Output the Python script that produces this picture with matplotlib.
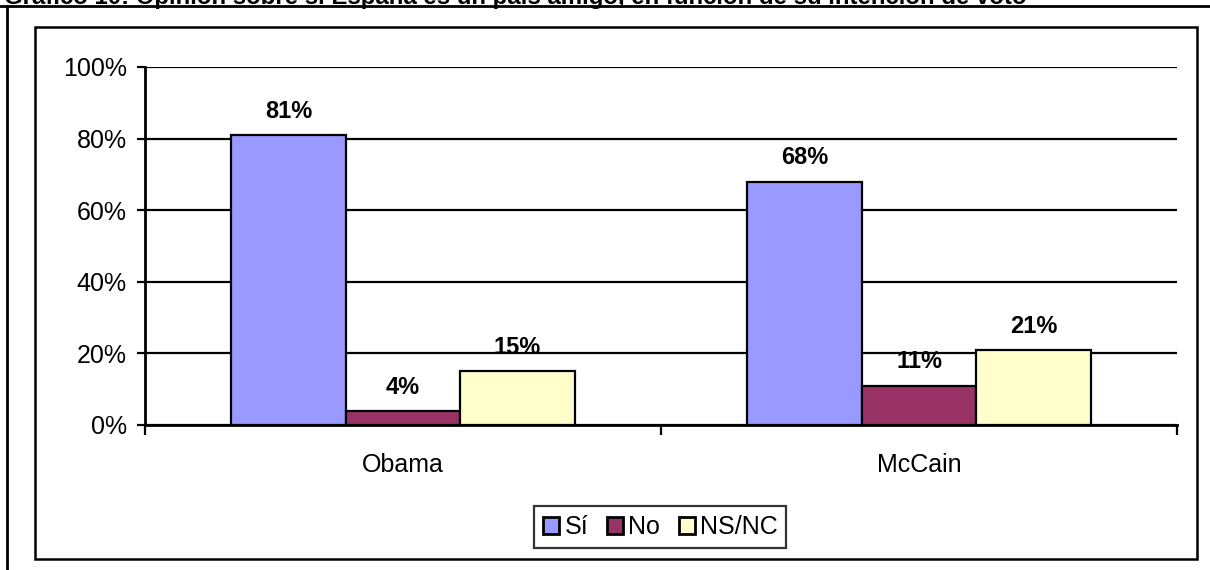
import matplotlib.pyplot as plt
from matplotlib.patches import Rectangle
from matplotlib.lines import Line2D
import numpy as np

plt.rcParams['font.family'] = ['Liberation Sans', 'DejaVu Sans']

title = "Gráfico 10: Opinión sobre si España es un país amigo, en función de su intención de voto"
categories = ["Obama", "McCain"]
series = ["Sí", "No", "NS/NC"]
si = [81, 68]
no = [4, 11]
nsnc = [15, 21]
colors = ["#9999FF", "#993366", "#FFFFCC"]

W, H = 1210, 570
fig = plt.figure(figsize=(W / 100, H / 100), dpi=100)

# title cut off at top of the page, rule under it and left page border
fig.text(4 / W, 1 - 4 / H, title, fontsize=17.3, fontweight="bold", ha="left", va="baseline")
fig.add_artist(Line2D([0, 1], [1 - 6 / H, 1 - 6 / H], color="black", lw=2))
fig.add_artist(Line2D([7 / W, 7 / W], [0, 1 - 6 / H], color="black", lw=2))

# chart frame
fig.add_artist(Rectangle((35 / W, 1 - 559 / H), (1197 - 35) / W, (559 - 27) / H,
                         fill=False, edgecolor="black", lw=1.8))

ax = fig.add_axes([145 / W, 1 - 425 / H, (1177 - 145) / W, (425 - 67) / H])

x = np.arange(len(categories))
bw = 0.222
for i, (vals, name, c) in enumerate(zip([si, no, nsnc], series, colors)):
    pos = x + (i - 1) * bw
    ax.bar(pos, vals, bw, color=c, edgecolor="black", linewidth=1.6, label=name, zorder=3)
    for p, v in zip(pos, vals):
        ax.text(p, v + 6.6, f"{v}%", ha="center", va="center", fontsize=17,
                fontweight="bold", zorder=4)

ax.set_xlim(-0.5, 1.5)
ax.set_ylim(0, 100)
ax.set_yticks(range(0, 101, 20))
ax.set_yticklabels([f"{t}%" for t in range(0, 101, 20)], fontsize=18)
ax.yaxis.grid(True, color="black", lw=1.6, zorder=1)
ax.set_xticks(x)
ax.set_xticklabels(categories, fontsize=18)
ax.set_xticks([-0.5, 0.5, 1.5], minor=True)
ax.tick_params(axis="x", which="major", length=0, pad=20)
ax.tick_params(axis="x", which="minor", length=7, width=1.6, direction="out")
ax.tick_params(axis="y", length=6, width=1.6, direction="out", pad=7)
for s in ["top", "right"]:
    ax.spines[s].set_visible(False)
for s in ["left", "bottom"]:
    ax.spines[s].set_linewidth(2)

leg = fig.legend(loc="center", bbox_to_anchor=((533 + 788) / 2 / W, 1 - 527 / H), ncol=3,
                 fontsize=18, frameon=True, fancybox=False, edgecolor="black",
                 handlelength=0.65, handleheight=0.65, handletextpad=0.2, columnspacing=0.75,
                 borderpad=0.35, borderaxespad=0)
leg.get_frame().set_linewidth(1.6)
for h in leg.legend_handles:
    h.set_linewidth(2)

fig.savefig("out.png", dpi=100)
